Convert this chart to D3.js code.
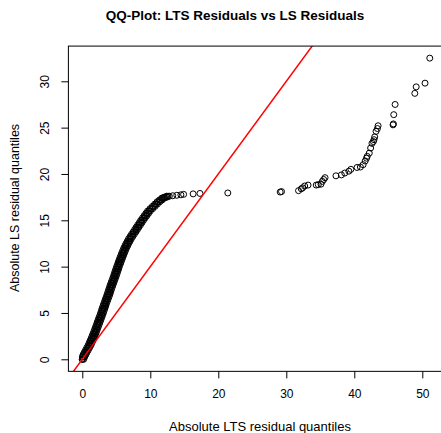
<!DOCTYPE html>
<html lang="en">
<head>
    <meta charset="UTF-8">
    <title>QQ-Plot: LTS Residuals vs LS Residuals</title>
    <style>
        body { margin: 0; background: #fff; }
        text { font-family: "Liberation Sans", Arial, sans-serif; }
    </style>
    <script src="https://cdnjs.cloudflare.com/ajax/libs/d3/7.8.5/d3.min.js"></script>
</head>
<body>
    <div id="chart"></div>

    <script>
        // dense part: LS quantile levels (y) and the LTS quantiles read at each level
        // (left edge, middle and right edge of the black band, ties in y)
        const lsDense = [
            0, 0.25, 0.5, 0.75, 1, 1.25, 1.5, 1.75, 2, 2.25,
            2.5, 2.75, 3, 3.25, 3.5, 3.75, 4, 4.25, 4.5, 4.75,
            5, 5.25, 5.5, 5.75, 6, 6.25, 6.5, 6.75, 7, 7.25,
            7.5, 7.75, 8, 8.25, 8.5, 8.75, 9, 9.25, 9.5, 9.75,
            10, 10.25, 10.5, 10.75, 11, 11.25, 11.5, 11.75, 12, 12.25,
            12.5, 12.75, 13, 13.25, 13.5, 13.75, 14, 14.25, 14.5, 14.75,
            15, 15.25, 15.5, 15.75, 16, 16.25, 16.5, 16.75, 17,
            17.2, 17.4, 17.5, 17.6
        ];
        const ltsDenseA = [
            0, 0, 0.12, 0.3, 0.48, 0.66, 0.85, 1.0, 1.15, 1.3,
            1.43, 1.57, 1.7, 1.83, 1.95, 2.08, 2.2, 2.33, 2.45, 2.58,
            2.7, 2.81, 2.92, 3.04, 3.15, 3.28, 3.4, 3.53, 3.65, 3.76,
            3.87, 3.99, 4.1, 4.23, 4.35, 4.48, 4.6, 4.71, 4.82, 4.94,
            5.05, 5.18, 5.3, 5.43, 5.55, 5.69, 5.82, 5.96, 6.1, 6.27,
            6.43, 6.62, 6.8, 7.02, 7.25, 7.48, 7.7, 7.92, 8.15, 8.38,
            8.6, 8.85, 9.1, 9.35, 9.6, 9.95, 10.3, 10.65, 11.0,
            11.35, 11.7, 12.05, 12.4
        ];
        const ltsDenseC = [
            0, 0.15, 0.32, 0.5, 0.68, 0.86, 1.05, 1.2, 1.35, 1.5,
            1.63, 1.77, 1.9, 2.03, 2.15, 2.28, 2.4, 2.53, 2.65, 2.78,
            2.9, 3.01, 3.12, 3.24, 3.35, 3.48, 3.6, 3.73, 3.85, 3.96,
            4.07, 4.19, 4.3, 4.43, 4.55, 4.68, 4.8, 4.91, 5.02, 5.14,
            5.25, 5.38, 5.5, 5.63, 5.75, 5.89, 6.02, 6.16, 6.3, 6.47,
            6.63, 6.82, 7.0, 7.22, 7.45, 7.68, 7.9, 8.12, 8.35, 8.58,
            8.8, 9.05, 9.3, 9.55, 9.8, 10.15, 10.5, 10.85, 11.2,
            11.55, 11.9, 12.25, 12.6
        ];
        const ltsDenseB = [
            0.2, 0.35, 0.52, 0.7, 0.88, 1.06, 1.25, 1.4, 1.55, 1.7,
            1.83, 1.97, 2.1, 2.23, 2.35, 2.48, 2.6, 2.73, 2.85, 2.98,
            3.1, 3.21, 3.32, 3.44, 3.55, 3.68, 3.8, 3.93, 4.05, 4.16,
            4.27, 4.39, 4.5, 4.63, 4.75, 4.88, 5.0, 5.11, 5.22, 5.34,
            5.45, 5.58, 5.7, 5.83, 5.95, 6.09, 6.22, 6.36, 6.5, 6.67,
            6.83, 7.02, 7.2, 7.42, 7.65, 7.88, 8.1, 8.32, 8.55, 8.78,
            9.0, 9.25, 9.5, 9.75, 10.0, 10.35, 10.7, 11.05, 11.4,
            11.75, 12.1, 12.45, 12.8
        ];
        // sparse upper tail
        const ltsTail = [
            13.3, 13.9, 14.5, 14.9, 16.3, 17.3, 21.4, 29.1, 29.3, 31.8, 32.2, 32.4, 32.7, 33.2, 34.4,
            34.7, 35.1, 35.3, 35.5, 35.7, 37.3, 38.1, 38.6, 39.2, 39.5, 40.4, 40.9, 41.3, 41.6, 41.8,
            41.9, 42.2, 42.4, 42.6, 42.8, 42.9, 43.0, 43.2, 43.4, 43.5, 45.7, 45.75, 45.8, 46.0, 48.9,
            49.1, 50.4, 51.1
        ];
        const lsTail = [
            17.65, 17.7, 17.75, 17.8, 17.85, 17.9, 17.95, 18.05, 18.1, 18.2, 18.4, 18.5, 18.7, 18.8, 18.8,
            18.85, 18.9, 19.2, 19.4, 19.6, 19.8, 19.9, 20.1, 20.3, 20.5, 20.7, 20.75, 21.0, 21.4, 21.7,
            21.9, 22.25, 22.8, 23.3, 23.5, 23.7, 24.0, 24.6, 24.9, 25.2, 25.3, 25.4, 26.4, 27.5, 28.7,
            29.4, 29.8, 32.5
        ];
        const xTicks = [0, 10, 20, 30, 40, 50];
        const yTicks = [0, 5, 10, 15, 20, 25, 30];

        const points = []
            .concat(lsDense.map((v, i) => [ltsDenseA[i], v]))
            .concat(lsDense.map((v, i) => [ltsDenseC[i], v]))
            .concat(lsDense.map((v, i) => [ltsDenseB[i], v]))
            .concat(lsTail.map((v, i) => [ltsTail[i], v]));
        const allX = points.map(d => d[0]);
        const allY = points.map(d => d[1]);

        const width = 441;
        const height = 433;
        const font = '"Liberation Sans", Arial, sans-serif';

        const svg = d3.select('#chart')
            .append('svg')
            .attr('width', width)
            .attr('height', height);

        // scales (R style: data range padded by 4%)
        const x = d3.scaleLinear().domain([0, 50]).range([82.3, 422.3]);
        const y = d3.scaleLinear().domain([0, 30]).range([359.3, 81.3]);
        const xPad = 0.04 * (d3.max(allX) - d3.min(allX));
        const yPad = 0.04 * (d3.max(allY) - d3.min(allY));
        const box = {
            left: x(d3.min(allX) - xPad),
            right: x(d3.max(allX) + xPad),
            top: y(d3.max(allY) + yPad),
            bottom: y(d3.min(allY) - yPad)
        };

        svg.append('clipPath')
            .attr('id', 'plotclip')
            .append('rect')
            .attr('x', box.left)
            .attr('y', box.top)
            .attr('width', box.right - box.left)
            .attr('height', box.bottom - box.top);

        const plot = svg.append('g').attr('clip-path', 'url(#plotclip)');

        // points
        plot.selectAll('circle')
            .data(points)
            .enter()
            .append('circle')
            .attr('cx', d => x(d[0]))
            .attr('cy', d => y(d[1]))
            .attr('r', 3)
            .attr('fill', 'none')
            .attr('stroke', '#000')
            .attr('stroke-width', 1);

        // reference line y = x
        plot.append('line')
            .attr('x1', x(-5)).attr('y1', y(-5))
            .attr('x2', x(60)).attr('y2', y(60))
            .attr('stroke', 'red')
            .attr('stroke-width', 1.5);

        // frame
        svg.append('rect')
            .attr('x', box.left)
            .attr('y', box.top)
            .attr('width', box.right - box.left)
            .attr('height', box.bottom - box.top)
            .attr('fill', 'none')
            .attr('stroke', '#000')
            .attr('stroke-width', 1);

        // x axis
        const xAxis = svg.append('g')
            .attr('transform', `translate(0,${box.bottom})`)
            .call(d3.axisBottom(x).tickValues(xTicks).tickSize(7).tickPadding(11));
        xAxis.select('.domain').remove();
        xAxis.selectAll('text').attr('font-size', 12).attr('fill', '#000').style('font-family', font);

        // y axis, labels parallel to the axis
        const yAxis = svg.append('g')
            .attr('transform', `translate(${box.left},0)`)
            .call(d3.axisLeft(y).tickValues(yTicks).tickSize(7));
        yAxis.select('.domain').remove();
        yAxis.selectAll('text')
            .attr('font-size', 12)
            .attr('fill', '#000')
            .style('font-family', font)
            .attr('x', null).attr('dy', null)
            .attr('text-anchor', 'middle')
            .attr('transform', `translate(${49 - box.left},0) rotate(-90)`);

        // titles
        svg.append('text')
            .attr('x', 235)
            .attr('y', 20)
            .attr('text-anchor', 'middle')
            .attr('font-size', 13.5)
            .attr('font-weight', 'bold')
            .text('QQ-Plot: LTS Residuals vs LS Residuals');

        svg.append('text')
            .attr('x', 260)
            .attr('y', 431)
            .attr('text-anchor', 'middle')
            .attr('font-size', 13)
            .text('Absolute LTS residual quantiles');

        svg.append('text')
            .attr('transform', 'translate(19,208) rotate(-90)')
            .attr('text-anchor', 'middle')
            .attr('font-size', 12.5)
            .text('Absolute LS residual quantiles');
    </script>
</body>
</html>
